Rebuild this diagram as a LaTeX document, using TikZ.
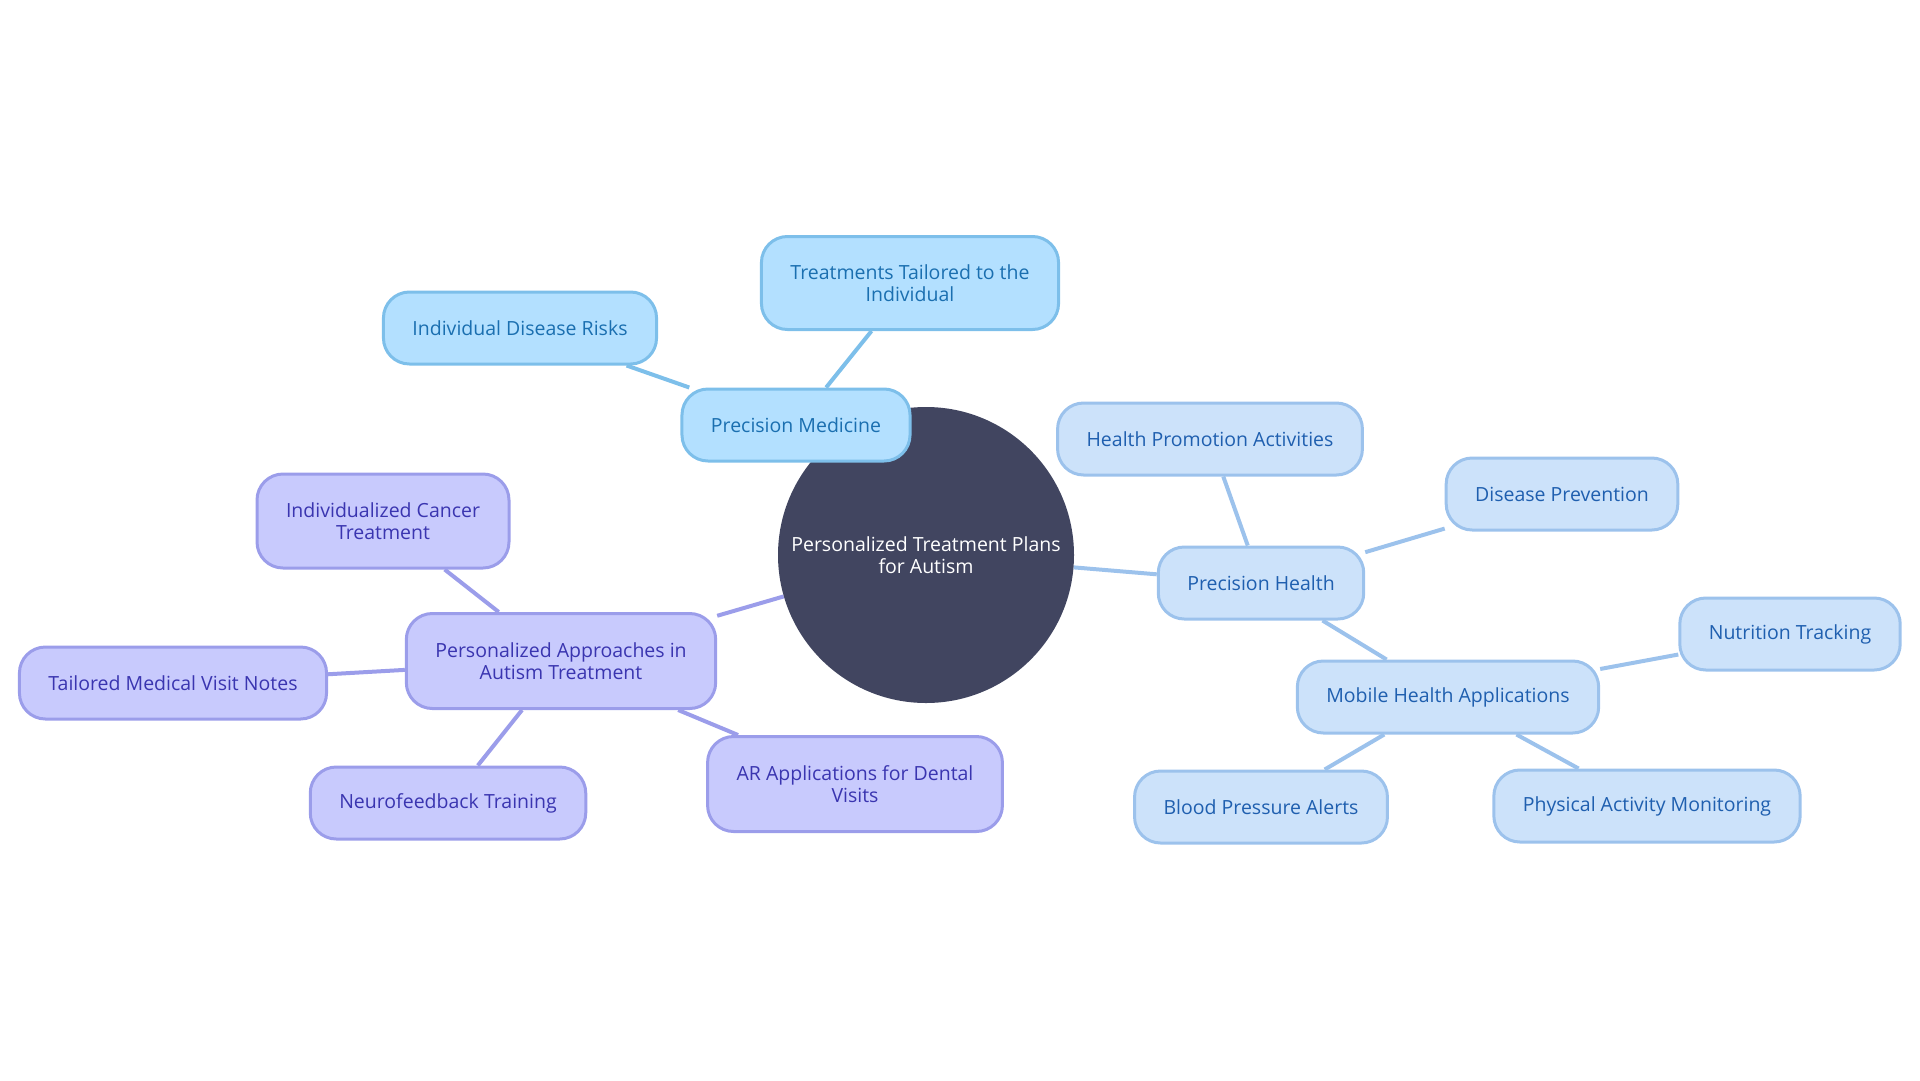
\documentclass[tikz,border=0pt]{standalone}
\usepackage{fontspec}
\setmainfont{Open Sans}
\usetikzlibrary{backgrounds}
\definecolor{hub}{HTML}{414560}
\definecolor{medfill}{HTML}{B3E0FF}
\definecolor{medline}{HTML}{7DBFEA}
\definecolor{medtext}{HTML}{1A6FB0}
\definecolor{hltfill}{HTML}{CCE2FA}
\definecolor{hltline}{HTML}{9CC2EC}
\definecolor{hlttext}{HTML}{1F5FAF}
\definecolor{autfill}{HTML}{C8CAFD}
\definecolor{autline}{HTML}{9B9DEA}
\definecolor{auttext}{HTML}{3A35B0}
\begin{document}
\begin{tikzpicture}[x=1pt, y=-1pt,
    leaf/.style={rounded corners=26pt, line width=3pt, minimum height=72pt, inner xsep=29pt,
        align=center, font=\fontsize{19.5}{22}\selectfont},
    med/.style={leaf, draw=medline, fill=medfill, text=medtext},
    hlt/.style={leaf, draw=hltline, fill=hltfill, text=hlttext},
    aut/.style={leaf, draw=autline, fill=autfill, text=auttext},
    medlink/.style={draw=medline, line width=4pt},
    hltlink/.style={draw=hltline, line width=4pt},
    autlink/.style={draw=autline, line width=4pt}]
    \useasboundingbox (0,0) rectangle (1920,1080);

    \node[circle, fill=hub, text=white, minimum size=296pt, align=center,
        font=\fontsize{19.5}{22}\selectfont] (hub) at (926,555) {Personalized Treatment Plans\\for Autism};

    % precision medicine branch
    \node[med] (pm) at (796,425) {Precision Medicine};
    \node[med, minimum height=93pt] (tail) at (910,283) {Treatments Tailored to the\\Individual};
    \node[med] (risk) at (520,328) {Individual Disease Risks};

    % precision health branch
    \node[hlt] (ph) at (1261,583) {Precision Health};
    \node[hlt] (promo) at (1210,439) {Health Promotion Activities};
    \node[hlt] (prev) at (1562,494) {Disease Prevention};
    \node[hlt] (mobile) at (1448,697) {Mobile Health Applications};
    \node[hlt] (nutri) at (1790,634) {Nutrition Tracking};
    \node[hlt] (bp) at (1261,807) {Blood Pressure Alerts};
    \node[hlt] (phys) at (1647,806) {Physical Activity Monitoring};

    % autism branch
    \node[aut, minimum height=95pt] (appr) at (561,661) {Personalized Approaches in\\Autism Treatment};
    \node[aut, minimum height=94pt] (cancer) at (383,521) {Individualized Cancer\\Treatment};
    \node[aut] (notes) at (173,683) {Tailored Medical Visit Notes};
    \node[aut] (neuro) at (448,803) {Neurofeedback Training};
    \node[aut, minimum height=95pt] (ar) at (855,784) {AR Applications for Dental\\Visits};

    \begin{scope}[on background layer]
    \path[medlink] (hub.center) -- (pm.center) (pm) -- (tail) (pm) -- (risk);
    \path[hltlink] (hub) -- (ph) (ph) -- (promo) (ph) -- (prev) (ph) -- (mobile)
        (mobile) -- (nutri) (mobile) -- (bp) (mobile) -- (phys);
    \path[autlink] (hub) -- (appr) (appr) -- (cancer) (appr) -- (notes) (appr) -- (neuro) (appr) -- (ar);
    \end{scope}
\end{tikzpicture}
\end{document}
